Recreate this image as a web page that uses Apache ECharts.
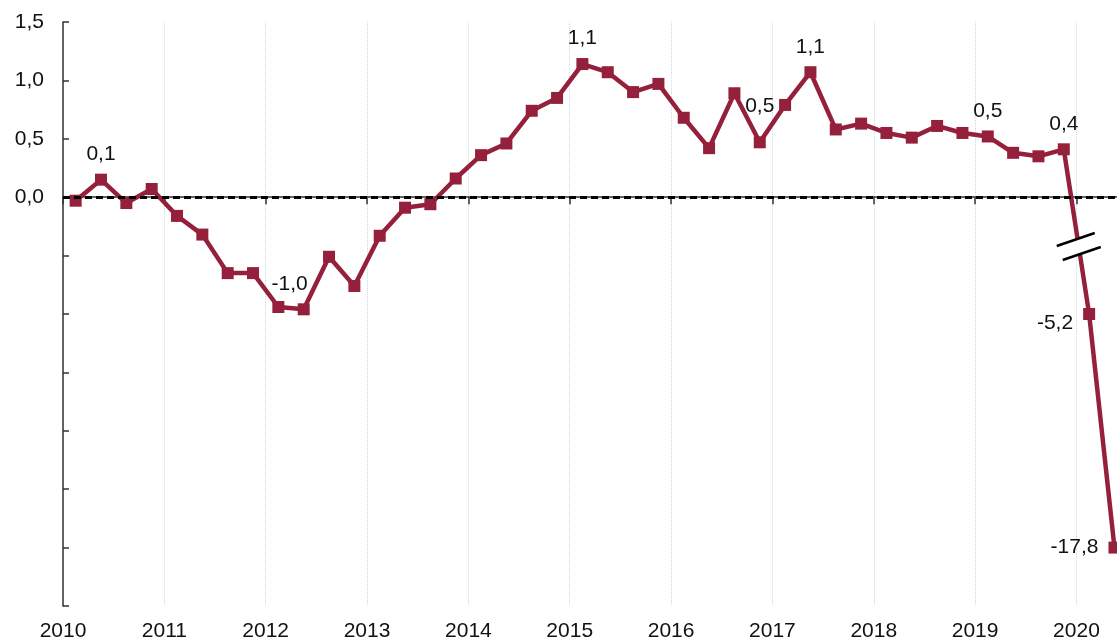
<!DOCTYPE html>
<html>
<head>
<meta charset="utf-8">
<script src="https://cdn.jsdelivr.net/npm/echarts@6/dist/echarts.min.js"></script>
<style>
  html, body { margin: 0; padding: 0; background: #fff; }
  #main { width: 1117px; height: 642px; }
</style>
</head>
<body>
<div id="main"></div>
<script>
// quarterly growth, 2010Q1 .. 2020Q2 (%)
var startYear = 2010;
var growth = [
  -0.03, 0.15, -0.05, 0.07,
  -0.16, -0.32, -0.65, -0.65,
  -0.94, -0.96, -0.51, -0.76,
  -0.33, -0.09, -0.06, 0.16,
  0.36, 0.46, 0.74, 0.85,
  1.14, 1.07, 0.90, 0.97,
  0.68, 0.42, 0.89, 0.47,
  0.79, 1.07, 0.58, 0.63,
  0.55, 0.51, 0.61, 0.55,
  0.52, 0.38, 0.35, 0.41,
  -5.2, -17.8
];
// which points get a value label
var labelIdx = [1, 9, 20, 27, 29, 36, 39, 40, 41];
var yTicks = [1.5, 1.0, 0.5, 0.0];
var lineColor = '#95203b';

// broken axis: everything below -5.2 is squeezed, -5.2 -> -1.0, -17.8 -> -3.0
function toAxis(v) {
  if (v > -1.2) return v;
  return -1.0 + (v + 5.2) * (2 / 12.6);
}

function fmt(v) {
  return v.toFixed(1).replace('.', ',');
}

function buildData() {
  var list = [];
  for (var i = 0; i < growth.length; i++) {
    var item = {
      value: [startYear + (i + 0.5) / 4, toAxis(growth[i])]
    };
    if (labelIdx.indexOf(i) >= 0) {
      var lab = { show: true, formatter: fmt(growth[i]) };
      if (i == 9) lab.offset = [-14, 0];
      if (i == 27) lab.offset = [0, -11];
      if (i >= 40) {
        lab.position = 'left';
        lab.distance = 10;
        if (i == 40) lab.offset = [0, 9];
      }
      item.label = lab;
    }
    list.push(item);
  }
  return list;
}

function getOption() {
  var option = {
    animation: false,
    textStyle: { fontFamily: 'Liberation Sans, Arial, sans-serif' },
    grid: { left: 63, right: 0, top: 22, bottom: 36 },
    xAxis: {
      type: 'value',
      min: 2010,
      max: 2020.4,
      interval: 1,
      axisLine: { lineStyle: { color: '#333', width: 1.5 } },
      axisTick: { show: true, length: 7, lineStyle: { color: '#333', width: 1.5 } },
      axisLabel: {
        color: '#111',
        fontSize: 21,
        margin: 15,
        showMaxLabel: false,
        formatter: function (v) {
          return Math.abs(v - Math.round(v)) < 1e-6 ? String(Math.round(v)) : '';
        }
      },
      splitLine: { show: true, lineStyle: { color: '#c6d9f0', type: 'dotted', width: 1 } }
    },
    yAxis: {
      type: 'value',
      min: -3.5,
      max: 1.5,
      interval: 0.5,
      axisLine: { show: true, lineStyle: { color: '#333', width: 1.5 } },
      axisTick: { show: true, inside: true, length: 6, lineStyle: { color: '#333', width: 1.5 } },
      axisLabel: {
        color: '#111',
        fontSize: 21,
        margin: 19,
        formatter: function (v) {
          for (var k = 0; k < yTicks.length; k++) {
            if (Math.abs(yTicks[k] - v) < 1e-6) return fmt(v);
          }
          return '';
        }
      },
      splitLine: { show: false }
    },
    series: [{
      type: 'line',
      data: buildData(),
      symbol: 'rect',
      symbolSize: 12,
      itemStyle: { color: lineColor },
      lineStyle: { color: lineColor, width: 4.5 },
      label: {
        position: 'top',
        distance: 9,
        color: '#111',
        fontSize: 21
      },
      emphasis: { disabled: true },
      markLine: {
        silent: true,
        symbol: ['none', 'none'],
        label: { show: false },
        lineStyle: { color: '#000', type: [7, 4], width: 3 },
        data: [{ yAxis: 0 }]
      },
      z: 3
    }]
  };
  return option;
}

var chart = echarts.init(document.getElementById('main'));
chart.setOption(getOption());

// break mark on the segment between 2019Q4 and 2020Q1
var pA = chart.convertToPixel({ seriesIndex: 0 }, [startYear + 39.5 / 4, toAxis(growth[39])]);
var pB = chart.convertToPixel({ seriesIndex: 0 }, [startYear + 40.5 / 4, toAxis(growth[40])]);
var t = 0.59;
var cx = pA[0] + (pB[0] - pA[0]) * t;
var cy = pA[1] + (pB[1] - pA[1]) * t;
var hx = 19, hy = -6.5;   // half length of each stroke
var ox = 3, oy = 7;       // offset of the two strokes from the centre
chart.setOption({
  graphic: [
    {
      type: 'polygon',
      z: 100,
      shape: {
        points: [
          [cx - ox - hx, cy - oy - hy], [cx - ox + hx, cy - oy + hy],
          [cx + ox + hx, cy + oy + hy], [cx + ox - hx, cy + oy - hy]
        ]
      },
      style: { fill: '#fff' }
    },
    {
      type: 'line',
      z: 101,
      shape: { x1: cx - ox - hx, y1: cy - oy - hy, x2: cx - ox + hx, y2: cy - oy + hy },
      style: { stroke: '#000', lineWidth: 2.5 }
    },
    {
      type: 'line',
      z: 101,
      shape: { x1: cx + ox - hx, y1: cy + oy - hy, x2: cx + ox + hx, y2: cy + oy + hy },
      style: { stroke: '#000', lineWidth: 2.5 }
    }
  ]
});
</script>
</body>
</html>
